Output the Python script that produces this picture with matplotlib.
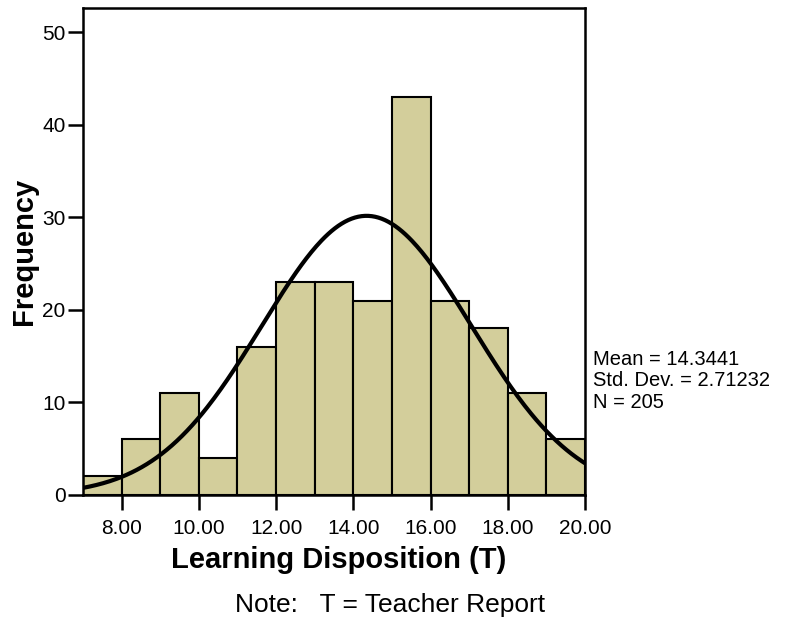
import numpy as np
import matplotlib.pyplot as plt

plt.rcParams['font.family'] = ['Liberation Sans', 'DejaVu Sans']

# histogram data (bin edges 7..20, width 1)
bin_edges = [7, 8, 9, 10, 11, 12, 13, 14, 15, 16, 17, 18, 19, 20]
counts = [2, 6, 11, 4, 16, 23, 23, 21, 43, 21, 18, 11, 6]
mean = 14.3441
std = 2.71232
n = 205

x_ticks = [8, 10, 12, 14, 16, 18, 20]
y_ticks = [0, 10, 20, 30, 40, 50]

fig = plt.figure(figsize=(7.86, 6.32), dpi=100)
ax = fig.add_axes([83/786, 137/632, 502/786, 487/632])

lefts = bin_edges[:-1]
widths = np.diff(bin_edges)
ax.bar(lefts, counts, width=widths, align='edge', color='#d3ce9b',
       edgecolor='black', linewidth=1.5, zorder=2)

# fitted normal curve
xs = np.linspace(7, 20, 300)
binw = bin_edges[1] - bin_edges[0]
ys = n * binw / (std * np.sqrt(2 * np.pi)) * np.exp(-0.5 * ((xs - mean) / std) ** 2)
ax.plot(xs, ys, color='black', linewidth=3, zorder=3, solid_capstyle='butt')

ax.set_xlim(7, 20)
ax.set_ylim(0, 52.6)
ax.set_xticks(x_ticks)
ax.set_xticklabels(['%.2f' % v for v in x_ticks])
ax.set_yticks(y_ticks)
ax.tick_params(direction='out', length=11, width=1.8, labelsize=15)
ax.tick_params(axis='x', pad=6)
ax.tick_params(axis='y', pad=1.5)
for s in ax.spines.values():
    s.set_linewidth(1.8)

ax.set_xlabel('Learning Disposition (T)', fontsize=21, fontweight='bold')
ax.set_ylabel('Frequency', fontsize=21, fontweight='bold')
ax.xaxis.set_label_coords(0.509, -0.105)
ax.yaxis.set_label_coords(-0.09, 0.5)

fig.text(593/786, 1 - 381/632, 'Mean = 14.3441\nStd. Dev. = 2.71232\nN = 205',
         fontsize=14.5, va='center', ha='left', linespacing=1.15)
fig.text(390/786, 1 - 605/632, 'Note:   T = Teacher Report', fontsize=19,
         ha='center', va='center')

fig.savefig('out.png', dpi=100)
